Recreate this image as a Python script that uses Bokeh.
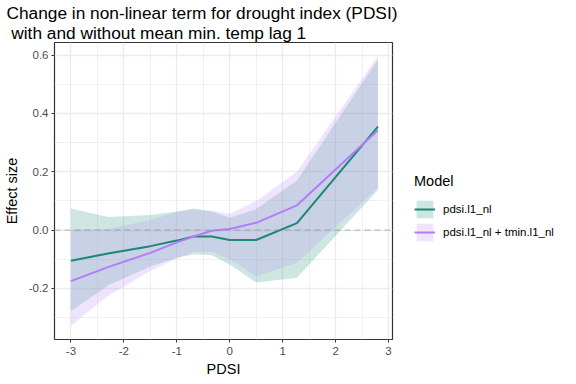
from bokeh.plotting import figure
from bokeh.layouts import row
from bokeh.models import (FixedTicker, PrintfTickFormatter, Span, Legend, LegendItem,
                          ColumnDataSource, Range1d, Title)
from bokeh.embed import file_html
from bokeh.resources import INLINE

# ---- data ----
pdsi = [-3.0, -2.3, -1.5, -1.0, -0.68, -0.34, 0.0, 0.5, 1.27, 2.8]

m1_fit   = [-0.105, -0.080, -0.055, -0.036, -0.022, -0.022, -0.034, -0.034, 0.024, 0.355]
m1_lower = [-0.278, -0.190, -0.125, -0.095, -0.083, -0.086, -0.118, -0.180, -0.163, 0.137]
m1_upper = [0.074, 0.045, 0.052, 0.064, 0.074, 0.064, 0.042, 0.072, 0.170, 0.585]

m2_fit   = [-0.175, -0.127, -0.078, -0.042, -0.022, -0.002, 0.004, 0.025, 0.085, 0.342]
m2_lower = [-0.328, -0.225, -0.140, -0.097, -0.075, -0.075, -0.100, -0.158, -0.112, 0.145]
m2_upper = [0.002, 0.003, 0.035, 0.062, 0.070, 0.066, 0.055, 0.100, 0.200, 0.597]

model_labels = ["pdsi.l1_nl", "pdsi.l1_nl + tmin.l1_nl"]
x_ticks = [-3, -2, -1, 0, 1, 2, 3]
x_minor = [-2.5, -1.5, -0.5, 0.5, 1.5, 2.5]
y_ticks = [-0.2, 0.0, 0.2, 0.4, 0.6]
y_minor = [-0.3, -0.1, 0.1, 0.3, 0.5]

title_text = "Change in non-linear term for drought index (PDSI)\n\u00a0with and without mean min. temp lag 1"

FONT = "Liberation Sans"
teal_line = "#1b8777"
teal_fill = "#379b87"
purple_line = "#b47cf8"
purple_fill = "#bf93f7"

p = figure(frame_width=338, frame_height=297, output_backend="svg", toolbar_location=None,
           x_range=Range1d(-3.31, 3.075), y_range=Range1d(-0.375, 0.643),
           min_border_left=48, min_border_right=12, min_border_top=35,
           min_border_bottom=30)

p.title.text = title_text
p.title.text_font = FONT
p.title.text_font_size = "17.3px"
p.title.text_font_style = "normal"
p.title.text_line_height = 1.0
p.title.align = "left"
p.title.offset = -48
p.title.standoff = 0
p.title.text_color = "black"

p.background_fill_color = "white"
p.border_fill_color = "white"
p.outline_line_color = "#333333"
p.outline_line_width = 1.2

# grids
p.xaxis.ticker = FixedTicker(ticks=x_ticks, minor_ticks=x_minor)
p.yaxis.ticker = FixedTicker(ticks=y_ticks, minor_ticks=y_minor)
p.xaxis.formatter = PrintfTickFormatter(format="%d")
p.yaxis.formatter = PrintfTickFormatter(format="%.1f")
for g in (p.xgrid, p.ygrid):
    g.grid_line_color = "#ebebeb"
    g.grid_line_width = 1.3
    g.minor_grid_line_color = "#ebebeb"
    g.minor_grid_line_width = 0.7

for ax in (p.xaxis, p.yaxis):
    ax.axis_line_color = None
    ax.major_tick_line_color = "#333333"
    ax.major_tick_line_width = 1
    ax.major_tick_out = 3
    ax.major_tick_in = 0
    ax.minor_tick_line_color = None
    ax.major_label_text_font = FONT
    ax.major_label_text_font_size = "11.5px"
    ax.major_label_text_color = "#4d4d4d"
    ax.axis_label_text_font = FONT
    ax.axis_label_text_font_size = "14.5px"
    ax.axis_label_text_font_style = "normal"
    ax.axis_label_text_color = "black"
p.yaxis.axis_label = "Effect size"
p.xaxis.major_label_standoff = 3
p.yaxis.major_label_standoff = 2
p.yaxis.axis_label_standoff = 6

xlab = Title(text="PDSI", align="center", text_font=FONT, text_font_size="14.5px",
             text_font_style="normal", text_color="black", standoff=2,
             text_line_height=1.0)
p.add_layout(xlab, "below")

src = ColumnDataSource(dict(x=pdsi, f1=m1_fit, l1=m1_lower, u1=m1_upper,
                            f2=m2_fit, l2=m2_lower, u2=m2_upper))

band_kw1 = dict(fill_color=teal_fill, fill_alpha=0.25)
band_kw2 = dict(fill_color=purple_fill, fill_alpha=0.25)
line_kw1 = dict(line_color=teal_line, line_width=2)
line_kw2 = dict(line_color=purple_line, line_width=2)

b1 = p.varea(x="x", y1="l1", y2="u1", source=src, **band_kw1)
b2 = p.varea(x="x", y1="l2", y2="u2", source=src, **band_kw2)

zero = Span(location=0, dimension="width", line_color="#8c8c8c", line_alpha=0.5,
            line_width=1.2, line_dash="6 4")
p.add_layout(zero)

r1 = p.line(x="x", y="f1", source=src, **line_kw1)
r2 = p.line(x="x", y="f2", source=src, **line_kw2)

# ---- legend panel (separate figure to the right) ----
q = figure(width=162, height=368, output_backend="svg", toolbar_location=None,
           x_axis_type=None, y_axis_type=None, title=None,
           x_range=Range1d(0, 1), y_range=Range1d(0, 1),
           min_border=0, outline_line_color=None)
q.grid.visible = False
# legend-key renderers: kept outside the visible range of this panel
offscreen = ColumnDataSource(dict(x=[5, 6], lo=[5, 5], hi=[6, 6], y=[5, 5]))
lb1 = q.varea(x="x", y1="lo", y2="hi", source=offscreen, **band_kw1)
ll1 = q.line(x="x", y="y", source=offscreen, **line_kw1)
lb2 = q.varea(x="x", y1="lo", y2="hi", source=offscreen, **band_kw2)
ll2 = q.line(x="x", y="y", source=offscreen, **line_kw2)

legend = Legend(items=[LegendItem(label=model_labels[0], renderers=[lb1, ll1]),
                       LegendItem(label=model_labels[1], renderers=[lb2, ll2])],
                location=(10, 87))
legend.title = "Model"
legend.title_text_font = FONT
legend.title_text_font_size = "14.5px"
legend.title_text_font_style = "normal"
legend.title_text_color = "black"
legend.title_standoff = 9
legend.label_text_font = FONT
legend.label_text_font_size = "11.5px"
legend.label_text_color = "black"
legend.label_height = 18
legend.glyph_width = 21
legend.glyph_height = 22
legend.spacing = 1
legend.label_standoff = 8
legend.padding = 0
legend.margin = 0
legend.border_line_color = None
legend.background_fill_alpha = 0
q.add_layout(legend, "center")

layout = row(p, q)
open("out.html", "w").write(file_html(layout, INLINE))
